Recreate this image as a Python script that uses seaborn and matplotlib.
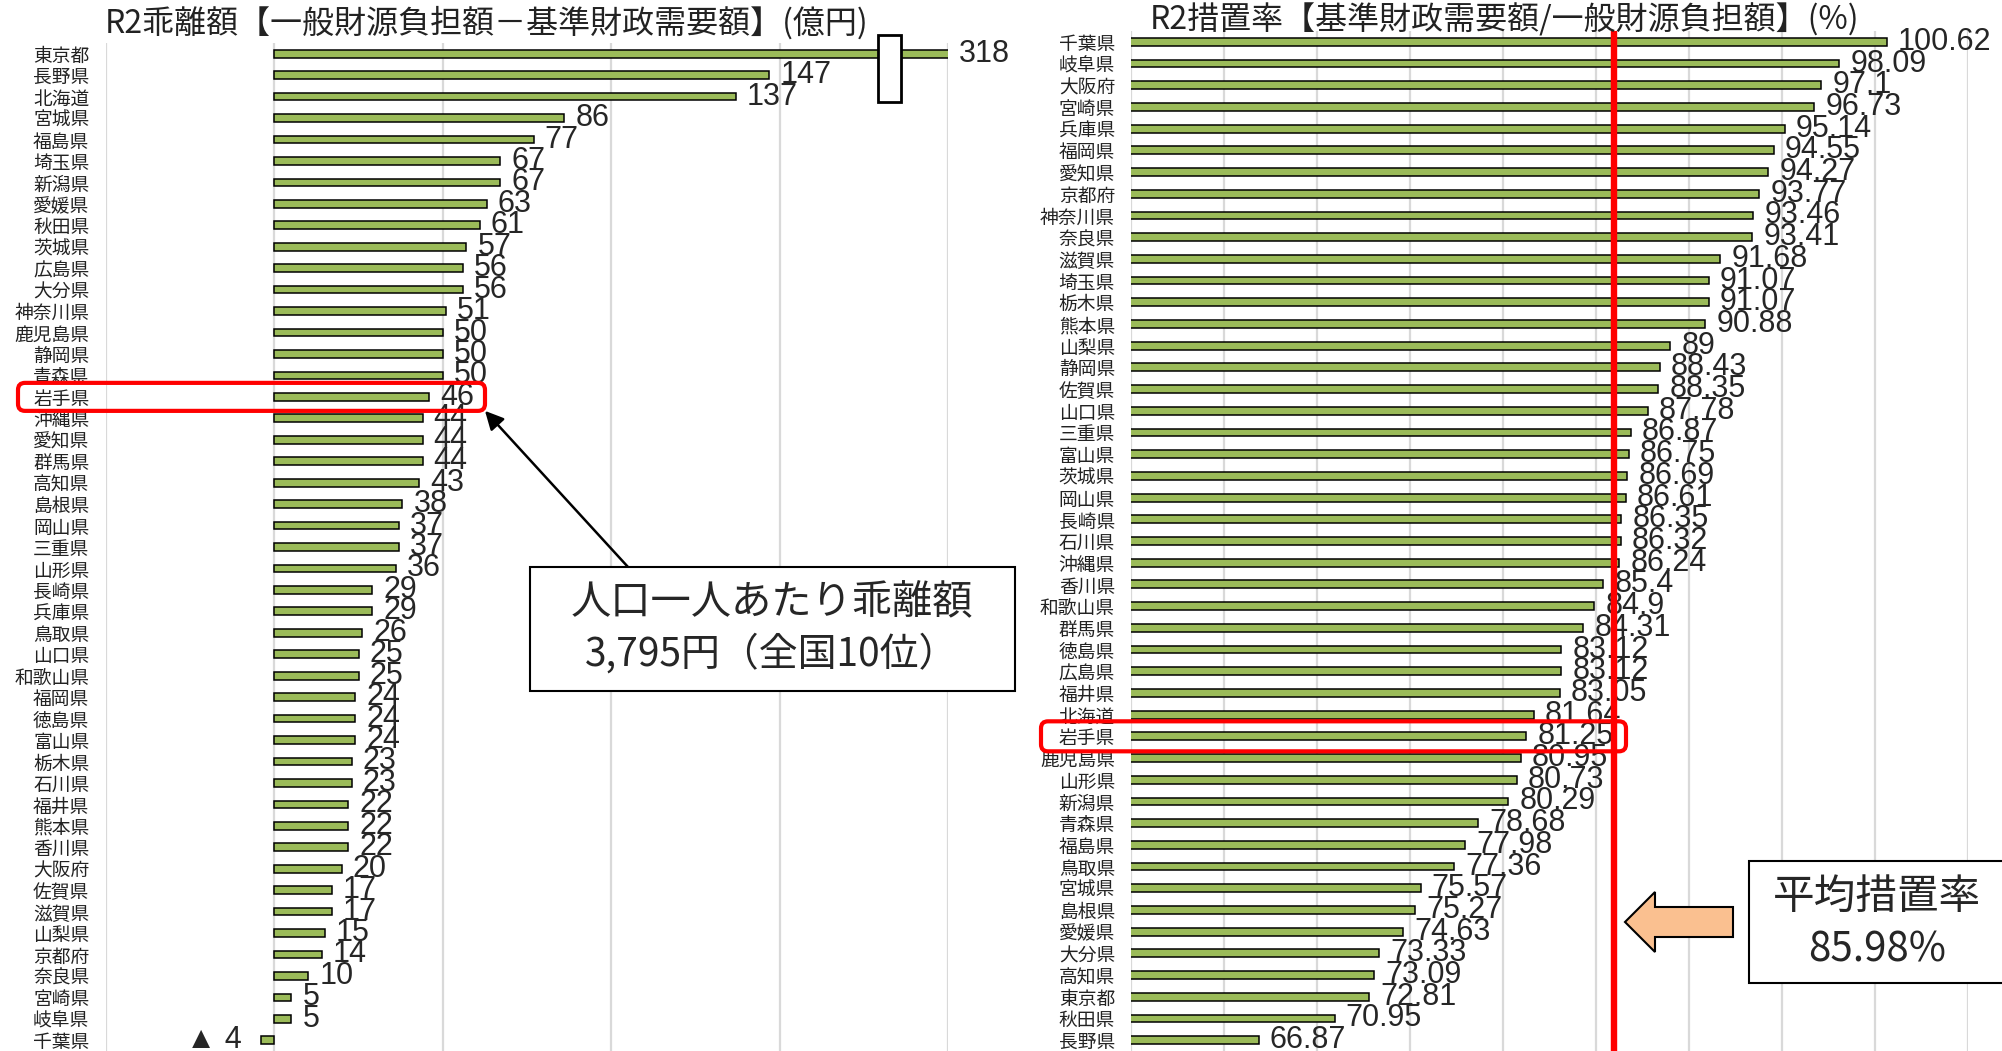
import matplotlib
matplotlib.use("Agg")
import numpy as np
import pandas as pd
import seaborn as sns
import matplotlib.pyplot as plt
from matplotlib.patches import Rectangle, FancyBboxPatch, FancyArrowPatch, FancyArrow
from matplotlib.transforms import IdentityTransform

# R2 乖離額 (億円)
gap_pref = ["東京都", "長野県", "北海道", "宮城県", "福島県", "埼玉県", "新潟県", "愛媛県",
            "秋田県", "茨城県", "広島県", "大分県", "神奈川県", "鹿児島県", "静岡県", "青森県",
            "岩手県", "沖縄県", "愛知県", "群馬県", "高知県", "島根県", "岡山県", "三重県",
            "山形県", "長崎県", "兵庫県", "鳥取県", "山口県", "和歌山県", "福岡県", "徳島県",
            "富山県", "栃木県", "石川県", "福井県", "熊本県", "香川県", "大阪府", "佐賀県",
            "滋賀県", "山梨県", "京都府", "奈良県", "宮崎県", "岐阜県", "千葉県"]
gap_value = [318, 147, 137, 86, 77, 67, 67, 63, 61, 57, 56, 56, 51, 50, 50, 50,
             46, 44, 44, 44, 43, 38, 37, 37, 36, 29, 29, 26, 25, 25, 24, 24,
             24, 23, 23, 22, 22, 22, 20, 17, 17, 15, 14, 10, 5, 5, -4]

# R2 措置率 (%)
rate_pref = ["千葉県", "岐阜県", "大阪府", "宮崎県", "兵庫県", "福岡県", "愛知県", "京都府",
             "神奈川県", "奈良県", "滋賀県", "埼玉県", "栃木県", "熊本県", "山梨県", "静岡県",
             "佐賀県", "山口県", "三重県", "富山県", "茨城県", "岡山県", "長崎県", "石川県",
             "沖縄県", "香川県", "和歌山県", "群馬県", "徳島県", "広島県", "福井県", "北海道",
             "岩手県", "鹿児島県", "山形県", "新潟県", "青森県", "福島県", "鳥取県", "宮城県",
             "島根県", "愛媛県", "大分県", "高知県", "東京都", "秋田県", "長野県"]
rate_value = [100.62, 98.09, 97.1, 96.73, 95.14, 94.55, 94.27, 93.77,
              93.46, 93.41, 91.68, 91.07, 91.07, 90.88, 89, 88.43,
              88.35, 87.78, 86.87, 86.75, 86.69, 86.61, 86.35, 86.32,
              86.24, 85.4, 84.9, 84.31, 83.12, 83.12, 83.05, 81.64,
              81.25, 80.95, 80.73, 80.29, 78.68, 77.98, 77.36, 75.57,
              75.27, 74.63, 73.33, 73.09, 72.81, 70.95, 66.87]

avg_rate = 85.98
focus = "岩手県"

sns.set_style("white")
plt.rcParams['font.family'] = ['Noto Sans CJK JP', 'DejaVu Sans']
num_font = ['Liberation Sans', 'Noto Sans CJK JP', 'DejaVu Sans']

W, H = 2002, 1051
fig = plt.figure(figsize=(W / 100, H / 100), dpi=100)
ax1 = fig.add_axes([106 / W, 0, (948 - 106) / W, 1 - 43 / H])
ax2 = fig.add_axes([1131 / W, 0, (1968 - 1131) / W, 1 - 31 / H])

green = "#9BBB59"
gridc = "#D9D9D9"
px = IdentityTransform()


def draw_bars(ax, names, values, ticks, pad):
    df = pd.DataFrame({"pref": names, "val": values})
    sns.barplot(df, x="val", y="pref", orient="h", color=green, saturation=1,
                width=0.36, edgecolor="black", linewidth=1.1, ax=ax, zorder=3)
    ax.set_xlim(ticks[0], ticks[-1])
    ax.set_ylim(len(names) - 0.5, -0.5)
    ax.set_xticks(ticks)
    ax.xaxis.grid(True, color=gridc, lw=1.6)
    ax.set_axisbelow(True)
    ax.tick_params(axis="x", length=0, labelbottom=False)
    ax.tick_params(axis="y", length=0, pad=pad, labelsize=13.5, labelcolor="#222222")
    ax.set_xlabel("")
    ax.set_ylabel("")
    for s in ax.spines.values():
        s.set_visible(False)
    xmax = ticks[-1]
    for i, v in enumerate(values):
        if v >= 0:
            ax.annotate(f"{v:g}", xy=(min(v, xmax), i), xytext=(8, 0),
                        textcoords="offset points", ha="left", va="center",
                        fontsize=22, family=num_font, annotation_clip=False)
        else:
            ax.annotate(f"▲ {abs(v):g}", xy=(v, i), xytext=(-14, 0),
                        textcoords="offset points", ha="right", va="center",
                        fontsize=22, family=num_font, annotation_clip=False)


draw_bars(ax1, gap_pref, gap_value, np.arange(-50, 201, 50), 12)
draw_bars(ax2, rate_pref, rate_value, np.arange(60, 106, 5), 11.5)

# break mark on the 東京都 bar
ax1.add_patch(Rectangle((179.2, -0.88), 6.8, 3.15, fc="white", ec="black",
                        lw=2, zorder=5, clip_on=False))

# average line
ax2.axvline(avg_rate, color="red", lw=4.6, zorder=4)

# titles
fig.text(487 / W, 1 - 23 / H, "R2乖離額【一般財源負担額－基準財政需要額】(億円)",
         ha="center", va="center", fontsize=23, color="#222222")
fig.text(1505 / W, 1 - 19 / H, "R2措置率【基準財政需要額/一般財源負担額】(%)",
         ha="center", va="center", fontsize=23, color="#222222")

# red highlight boxes
y1 = ax1.transData.transform((0, gap_pref.index(focus)))[1]
y2 = ax2.transData.transform((0, rate_pref.index(focus)))[1]
fig.add_artist(FancyBboxPatch((18, y1 - 14), 467, 28, boxstyle="round,pad=0,rounding_size=7",
                              fc="none", ec="red", lw=3, transform=px, zorder=6))
fig.add_artist(FancyBboxPatch((1041, y2 - 15), 585, 30, boxstyle="round,pad=0,rounding_size=7",
                              fc="none", ec="red", lw=3, transform=px, zorder=6))

# left callout
fig.add_artist(FancyArrowPatch((628, H - 567), (485, y1 - 14), arrowstyle="-|>",
                               mutation_scale=28, lw=1.8, color="black",
                               shrinkA=0, shrinkB=0, transform=px, zorder=6))
fig.add_artist(Rectangle((530, H - 691), 485, 124, fc="white", ec="black", lw=1.5,
                         transform=px, zorder=6))
fig.text(772 / W, 1 - 603 / H, "人口一人あたり乖離額", ha="center", va="center",
         fontsize=29, zorder=7)
fig.text(772 / W, 1 - 654 / H, "3,795円（全国10位）", ha="center", va="center",
         fontsize=28, zorder=7)

# right callout
fig.add_artist(FancyArrow(1733, H - 922, -108, 0, width=30, head_width=60, head_length=30,
                          length_includes_head=True, fc="#FAC090", ec="black", lw=1.5,
                          transform=px, zorder=6))
fig.add_artist(Rectangle((1749, H - 983), 300, 122, fc="white", ec="black", lw=1.5,
                         transform=px, zorder=6))
fig.text(1877 / W, 1 - 897 / H, "平均措置率", ha="center", va="center", fontsize=30, zorder=7)
fig.text(1877 / W, 1 - 950 / H, f"{avg_rate}%", ha="center", va="center", fontsize=29, zorder=7)

fig.savefig("out.png", dpi=100)
